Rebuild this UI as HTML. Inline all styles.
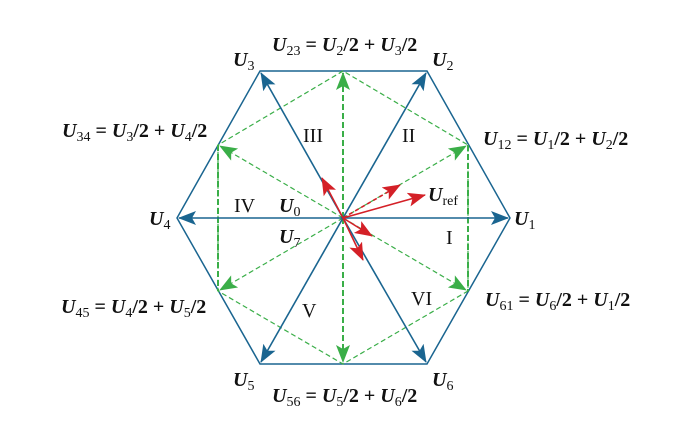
<!DOCTYPE html>
<html><head><meta charset="utf-8"><style>
html,body{margin:0;padding:0;background:#fff;}
svg{display:block;}
text{font-family:"Liberation Serif",serif;font-size:20px;fill:#111;}
.u{font-weight:bold;font-style:italic;}
.s{font-size:14px;font-weight:normal;}
.eq{font-weight:bold;}
</style></head><body>
<svg width="679" height="422" viewBox="0 0 679 422" xmlns="http://www.w3.org/2000/svg">
<defs>
<marker id="bb" markerWidth="18" markerHeight="14" refX="17" refY="7" orient="auto" markerUnits="userSpaceOnUse"><path d="M0,0 L18,7 L0,14 L4,7z" fill="#1a6590"/></marker>
<marker id="g" markerWidth="18" markerHeight="14" refX="17" refY="7" orient="auto" markerUnits="userSpaceOnUse"><path d="M0,0 L18,7 L0,14 L4,7z" fill="#3aae48"/></marker>
<marker id="rd" markerWidth="18" markerHeight="14" refX="17" refY="7" orient="auto" markerUnits="userSpaceOnUse"><path d="M0,0 L18,7 L0,14 L4,7z" fill="#d42027"/></marker>
</defs>
<polygon points="510,218 427,71 260,71 177,218 260,364 427,364" fill="none" stroke="#1a6590" stroke-width="1.5"/>
<g stroke="#3aae48" stroke-width="1.2" stroke-dasharray="5,3" fill="none">
<polygon points="343,71 218,145 218,291 343,364 468,291 468,145"/>
<line x1="343" y1="218" x2="220" y2="146" marker-end="url(#g)"/>
<line x1="343" y1="218" x2="466" y2="146" marker-end="url(#g)"/>
<line x1="343" y1="218" x2="220" y2="290" marker-end="url(#g)"/>
<line x1="343" y1="218" x2="466" y2="290" marker-end="url(#g)"/>
</g>
<g stroke="#3aae48" stroke-width="2" stroke-dasharray="6,3" fill="none">
<line x1="343" y1="218" x2="343" y2="73" marker-end="url(#g)"/>
<line x1="343" y1="218" x2="343" y2="362" marker-end="url(#g)"/>
<line x1="218" y1="145" x2="218" y2="291"/>
<line x1="468" y1="145" x2="468" y2="291"/>
</g>
<g stroke="#1a6590" stroke-width="1.6" fill="none">
<line x1="343" y1="218" x2="508" y2="218" marker-end="url(#bb)"/>
<line x1="343" y1="218" x2="179" y2="218" marker-end="url(#bb)"/>
<line x1="343" y1="218" x2="426" y2="73" marker-end="url(#bb)"/>
<line x1="343" y1="218" x2="261" y2="73" marker-end="url(#bb)"/>
<line x1="343" y1="218" x2="261" y2="362" marker-end="url(#bb)"/>
<line x1="343" y1="218" x2="426" y2="362" marker-end="url(#bb)"/>
</g>
<g stroke="#d42027" stroke-width="1.6" fill="none">
<line x1="343" y1="218" x2="425" y2="195" marker-end="url(#rd)"/>
<line x1="343" y1="218" x2="400" y2="185" stroke-dasharray="4,3" marker-end="url(#rd)"/>
<line x1="343" y1="218" x2="322" y2="178" marker-end="url(#rd)"/>
<line x1="343" y1="218" x2="372" y2="236" marker-end="url(#rd)"/>
<line x1="343" y1="218" x2="363" y2="260" marker-end="url(#rd)"/>
</g>
<g style="font-size:18px">
<text x="446" y="244">I</text>
<text x="402" y="142">II</text>
<text x="303" y="142">III</text>
<text x="234" y="212">IV</text>
<text x="302" y="317">V</text>
<text x="411" y="305">VI</text>
</g>
<text x="514" y="225"><tspan class="u">U</tspan><tspan class="s" dy="4">1</tspan></text>
<text x="432" y="66"><tspan class="u">U</tspan><tspan class="s" dy="4">2</tspan></text>
<text x="233" y="66"><tspan class="u">U</tspan><tspan class="s" dy="4">3</tspan></text>
<text x="149" y="225"><tspan class="u">U</tspan><tspan class="s" dy="4">4</tspan></text>
<text x="233" y="386"><tspan class="u">U</tspan><tspan class="s" dy="4">5</tspan></text>
<text x="432" y="386"><tspan class="u">U</tspan><tspan class="s" dy="4">6</tspan></text>
<text x="279" y="212"><tspan class="u">U</tspan><tspan class="s" dy="4">0</tspan></text>
<text x="279" y="243"><tspan class="u">U</tspan><tspan class="s" dy="4">7</tspan></text>
<text x="428" y="201"><tspan class="u">U</tspan><tspan class="s" dy="4">ref</tspan></text>
<text x="272" y="51"><tspan class="u">U</tspan><tspan class="s" dy="4">23</tspan><tspan class="eq" dy="-4"> = </tspan><tspan class="u">U</tspan><tspan class="s" dy="4">2</tspan><tspan class="eq" dy="-4">/2 + </tspan><tspan class="u">U</tspan><tspan class="s" dy="4">3</tspan><tspan class="eq" dy="-4">/2</tspan></text>
<text x="483" y="145"><tspan class="u">U</tspan><tspan class="s" dy="4">12</tspan><tspan class="eq" dy="-4"> = </tspan><tspan class="u">U</tspan><tspan class="s" dy="4">1</tspan><tspan class="eq" dy="-4">/2 + </tspan><tspan class="u">U</tspan><tspan class="s" dy="4">2</tspan><tspan class="eq" dy="-4">/2</tspan></text>
<text x="62" y="137"><tspan class="u">U</tspan><tspan class="s" dy="4">34</tspan><tspan class="eq" dy="-4"> = </tspan><tspan class="u">U</tspan><tspan class="s" dy="4">3</tspan><tspan class="eq" dy="-4">/2 + </tspan><tspan class="u">U</tspan><tspan class="s" dy="4">4</tspan><tspan class="eq" dy="-4">/2</tspan></text>
<text x="61" y="313"><tspan class="u">U</tspan><tspan class="s" dy="4">45</tspan><tspan class="eq" dy="-4"> = </tspan><tspan class="u">U</tspan><tspan class="s" dy="4">4</tspan><tspan class="eq" dy="-4">/2 + </tspan><tspan class="u">U</tspan><tspan class="s" dy="4">5</tspan><tspan class="eq" dy="-4">/2</tspan></text>
<text x="485" y="306"><tspan class="u">U</tspan><tspan class="s" dy="4">61</tspan><tspan class="eq" dy="-4"> = </tspan><tspan class="u">U</tspan><tspan class="s" dy="4">6</tspan><tspan class="eq" dy="-4">/2 + </tspan><tspan class="u">U</tspan><tspan class="s" dy="4">1</tspan><tspan class="eq" dy="-4">/2</tspan></text>
<text x="272" y="402"><tspan class="u">U</tspan><tspan class="s" dy="4">56</tspan><tspan class="eq" dy="-4"> = </tspan><tspan class="u">U</tspan><tspan class="s" dy="4">5</tspan><tspan class="eq" dy="-4">/2 + </tspan><tspan class="u">U</tspan><tspan class="s" dy="4">6</tspan><tspan class="eq" dy="-4">/2</tspan></text>
</svg>
</body></html>
